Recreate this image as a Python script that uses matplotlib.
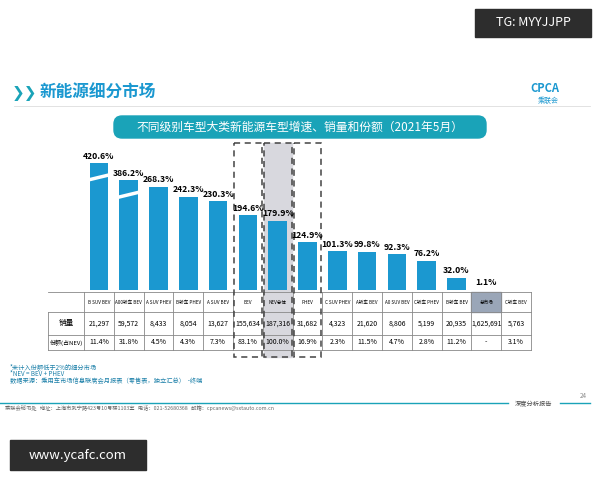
import matplotlib.pyplot as plt
from matplotlib.patches import Rectangle, FancyBboxPatch

plt.rcParams['font.family'] = ['Noto Sans CJK SC', 'DejaVu Sans']

categories = ['B SUV BEV', 'A00轿车 BEV', 'A SUV PHEV', 'B轿车 PHEV', 'A SUV BEV', 'BEV', 'NEV总体',
              'PHEV', 'C SUV PHEV', 'A轿车 BEV', 'A0 SUV BEV', 'C轿车 PHEV', 'B轿车 BEV', '总市场', 'C轿车 BEV']
growth = [420.6, 386.2, 268.3, 242.3, 230.3, 194.6, 179.9, 124.9, 101.3, 99.8, 92.3, 76.2, 32.0, 1.1, None]
sales = ['21,297', '59,572', '8,433', '8,054', '13,627', '155,634', '187,316', '31,682', '4,323',
         '21,620', '8,806', '5,199', '20,935', '1,625,691', '5,763']
share = ['11.4%', '31.8%', '4.5%', '4.3%', '7.3%', '83.1%', '100.0%', '16.9%', '2.3%',
         '11.5%', '4.7%', '2.8%', '11.2%', '-', '3.1%']
# broken-axis display caps for the two tallest bars
caps = {0: 330, 1: 285}

W, H = 600, 480
fig = plt.figure(figsize=(6, 4.8), dpi=100)
fig.patch.set_facecolor('white')
ov = fig.add_axes([0, 0, 1, 1])
ov.set_xlim(0, W)
ov.set_ylim(H, 0)
ov.axis('off')

blue = '#1b98d0'
teal = '#1aa3b8'

# header
ov.add_patch(Rectangle((475, 9), 116, 28, color='#2d2d2d'))
ov.text(533, 23, 'TG: MYYJJPP', color='white', fontsize=9, ha='center', va='center')
ov.text(12, 93, '❯❯', color=teal, fontsize=11, va='center', fontweight='bold')
ov.text(40, 93, '新能源细分市场', color=blue, fontsize=12, va='center', fontweight='bold')
ov.plot([14, 590], [106, 106], color='#dddddd', lw=0.6)
ov.text(545, 88, 'CPCA', color=blue, fontsize=8, ha='center', va='center', fontweight='bold', style='italic')
ov.text(548, 101, '乘联会', color=blue, fontsize=5, ha='center', va='center')
ov.add_patch(FancyBboxPatch((114, 116), 372, 22, boxstyle='round,pad=0,rounding_size=8', color=teal))
ov.text(300, 127, '不同级别车型大类新能源车型增速、销量和份额（2021年5月）', color='white',
        fontsize=8.5, ha='center', va='center')

# bars
x0, x1, base, top = 84, 531, 290, 130
ax = fig.add_axes([x0 / W, 1 - base / H, (x1 - x0) / W, (base - top) / H])
n = len(categories)
ax.set_xlim(-0.5, n - 0.5)
ax.set_ylim(0, (base - top) / 0.385)
ax.axis('off')
colw = (x1 - x0) / n
for i in (5, 6, 7):
    if i == 6:
        ov.add_patch(Rectangle((x0 + i * colw + 1, 143), colw - 2, 214, color='#d8d8de', zorder=0))
    ov.add_patch(Rectangle((x0 + i * colw + 1, 143), colw - 2, 214, fill=False, ls=(0, (4, 3)),
                           ec='#444444', lw=1.1, zorder=5))
for i, v in enumerate(growth):
    if v is None:
        continue
    h = caps.get(i, v)
    ax.bar(i, h, width=0.62, color=blue, zorder=2)
    ax.text(i, h + 6, f'{v:.1f}%', ha='center', va='bottom', fontsize=6.2, fontweight='bold', zorder=3)
    if i in caps:
        ax.plot([i - 0.4, i + 0.4], [h - 45, h - 30], color='white', lw=2.5, zorder=3)

# table
rows = [292, 312, 335, 350]
lx = 48
ov.plot([lx, x1], [rows[0]] * 2, color='#888888', lw=0.6)
for y in rows[1:]:
    ov.plot([lx, x1], [y, y], color='#888888', lw=0.6)
ov.plot([lx, lx], [rows[1], rows[3]], color='#888888', lw=0.6)
for i in range(n + 1):
    ov.plot([x0 + i * colw] * 2, [rows[0], rows[3]], color='#888888', lw=0.6)
ov.add_patch(Rectangle((x0 + 13 * colw, rows[0]), colw, rows[1] - rows[0], color='#9aa6b8', zorder=0))
ov.text(66, 323.5, '销量', fontsize=5.5, ha='center', va='center')
ov.text(66, 342.5, '份额(占NEV)', fontsize=4.3, ha='center', va='center')
for i in range(n):
    cx = x0 + (i + 0.5) * colw
    ov.text(cx, 302, categories[i], fontsize=3.3, ha='center', va='center')
    ov.text(cx, 323.5, sales[i], fontsize=5, ha='center', va='center')
    ov.text(cx, 342.5, share[i], fontsize=5, ha='center', va='center')

# notes and footer
ov.text(10, 367, '*未计入份额低于2%的细分市场', color='#1a7fa8', fontsize=4.5, va='center')
ov.text(10, 374, '*NEV = BEV + PHEV', color='#1a7fa8', fontsize=4.5, va='center')
ov.text(10, 381, '数据来源：乘用车市场信息联席会月报表（零售表，独立汇总）  -终端', color='#1a7fa8', fontsize=4.5, va='center')
ov.plot([0, 508], [403, 403], color=teal, lw=1)
ov.plot([560, 590], [403, 403], color=teal, lw=1)
ov.text(534, 403, '深度分析报告', color='#444444', fontsize=4.5, ha='center', va='center', style='italic')
ov.text(583, 396, '24', color='#888888', fontsize=4.5, ha='center', va='center')
ov.text(5, 408, '乘联会秘书处   地址：上海市武宁路423号10号楼1103室   电话：021-52680368   邮箱：cpcanews@sxtauto.com.cn',
        color='#666666', fontsize=3.8, va='center')
ov.add_patch(Rectangle((10, 440), 136, 30, color='#2d2d2d'))
ov.text(78, 455, 'www.ycafc.com', color='white', fontsize=9.5, ha='center', va='center')

fig.savefig('out.png', dpi=100)
